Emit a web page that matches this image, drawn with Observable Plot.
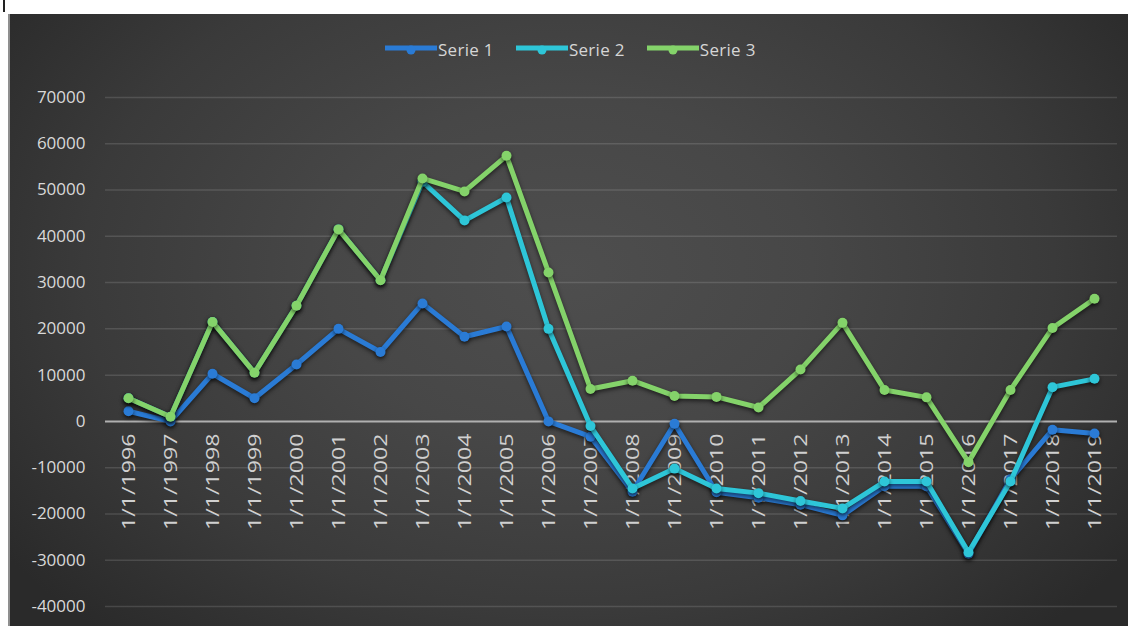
<!DOCTYPE html>
<html><head><meta charset="utf-8">
<script src="https://cdn.jsdelivr.net/npm/d3@7"></script>
<script src="https://cdn.jsdelivr.net/npm/@observablehq/plot@0.6"></script>
<style>
html,body{margin:0;padding:0;background:#fff;}
body{width:1128px;height:626px;position:relative;overflow:hidden;font-family:"Open Sans",sans-serif;}
#edge{position:absolute;left:8px;top:14px;width:2px;height:612px;background:#8f8f8f;}
#tick{position:absolute;left:3px;top:0;width:2px;height:12px;background:#222;}
#box{position:absolute;left:10px;top:14px;width:1118px;height:612px;
  background:radial-gradient(ellipse 62% 80% at 50% 42%, #4e4e4e 0%, #474747 35%, #3a3a3a 70%, #2a2a2a 100%);}
#legend{position:absolute;left:375px;top:24px;display:flex;align-items:center;height:22px;}
.item{display:flex;align-items:center;margin-right:22px;}
.item span{color:#d6d6d6;font-size:17px;letter-spacing:0.3px;margin-left:1px;}
#chart{position:absolute;left:0;top:0;}
#chart svg g[aria-label="line"] path,#chart svg g[aria-label="dot"] circle{filter:drop-shadow(0px 2px 2px rgba(0,0,0,0.6));}
</style></head>
<body>
<div id="tick"></div>
<div id="edge"></div>
<div id="box"><div id="chart"></div><div id="legend"></div></div>
<script>
const years = [1996,1997,1998,1999,2000,2001,2002,2003,2004,2005,2006,2007,2008,2009,2010,2011,2012,2013,2014,2015,2016,2017,2018,2019];
const seriesNames = ["Serie 1","Serie 2","Serie 3"];
const serie1 = [2200,0,10300,5000,12300,20000,15000,25500,18300,20500,0,-3300,-15200,-500,-15300,-16500,-18000,-20300,-14000,-14000,-28600,-12500,-1800,-2600];
const serie2 = [5000,1000,21500,10500,25000,41500,30500,51800,43400,48400,20000,-1000,-14500,-10200,-14500,-15500,-17200,-18800,-13000,-13000,-28300,-13000,7400,9200];
const serie3 = [5000,1000,21500,10500,25000,41500,30500,52500,49700,57400,32200,7000,8800,5500,5300,3000,11200,21300,6800,5200,-8800,6800,20200,26500];
const colors = ["#2a7bd5","#2ec6d8","#84d36a"];
const yTicks = [70000,60000,50000,40000,30000,20000,10000,0,-10000,-20000,-30000,-40000];
const xLabels = years.map(y => "1/1/" + y);

const allSeries = [serie1, serie2, serie3];
const rows = allSeries.map((vals, s) => years.map((yr, i) => ({series: seriesNames[s], year: yr, value: vals[i]})));

const marks = [
  Plot.ruleY(yTicks.filter(d => d !== 0), {stroke: "#ffffff", strokeOpacity: 0.13, strokeWidth: 1.5}),
  Plot.ruleY([0], {stroke: "#b0b0b0", strokeWidth: 2}),
  Plot.axisY(yTicks, {label: null, tickSize: 0, tickPadding: 20, fontSize: 17, fill: "#d9d9d9", tickFormat: d => String(d)}),
  Plot.text(years, {x: d => d, y: () => 0, text: (d, i) => xLabels[i], rotate: -90, textAnchor: "end", dy: 12, fontSize: 19, fill: "#d0d0d0"})
];
rows.forEach((r, s) => {
  marks.push(Plot.line(r, {x: "year", y: "value", stroke: colors[s], strokeWidth: 5, strokeLinejoin: "round"}));
  marks.push(Plot.dot(r, {x: "year", y: "value", r: 5, fill: colors[s], stroke: "none"}));
});

const chart = Plot.plot({
  width: 1118, height: 612,
  marginLeft: 95, marginRight: 11, marginTop: 83, marginBottom: 20,
  style: {background: "transparent", fontFamily: "Open Sans", color: "#d9d9d9"},
  x: {type: "point", domain: years, padding: 0.5, axis: null},
  y: {domain: [-40000, 70000], axis: null},
  marks
});
document.getElementById("chart").appendChild(chart);
// stretch the rotated category labels along their reading direction
d3.select(chart).selectAll('g[aria-label="text"] text').attr("transform", function() {
  return this.getAttribute("transform") + " scale(1.22,1)";
});

const legend = document.getElementById("legend");
seriesNames.forEach((name, s) => {
  const item = document.createElement("div");
  item.className = "item";
  item.innerHTML = `<svg width="52" height="16"><line x1="0" y1="7" x2="52" y2="7" stroke="${colors[s]}" stroke-width="5"/><circle cx="26" cy="9" r="4.5" fill="${colors[s]}"/></svg><span>${name}</span>`;
  legend.appendChild(item);
});
</script>
</body></html>
